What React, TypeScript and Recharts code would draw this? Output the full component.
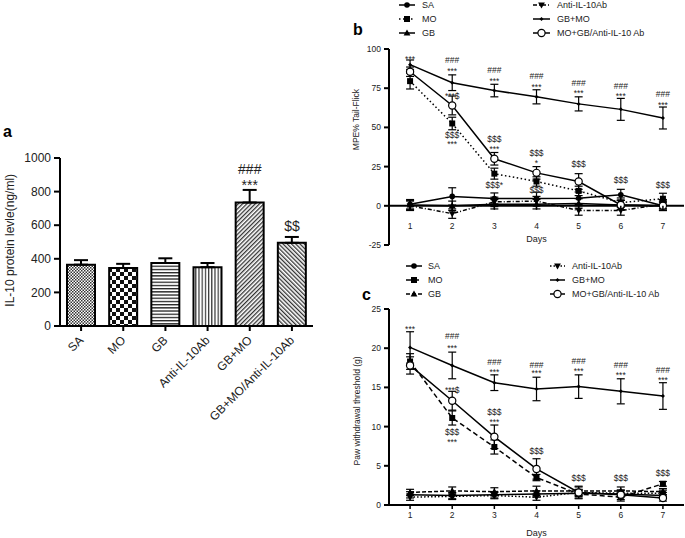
import React from "react";
import {
  BarChart,
  Bar,
  Cell,
  LineChart,
  Line,
  XAxis,
  YAxis,
  ErrorBar,
  ReferenceLine,
  ReferenceDot,
} from "recharts";

const FONT = "Arial, 'Liberation Sans', Helvetica, sans-serif";

// ---- panel a: IL-10 protein level
const groups = ["SA", "MO", "GB", "Anti-IL-10Ab", "GB+MO", "GB+MO/Anti-IL-10Ab"];
const il10 = [365, 345, 375, 350, 735, 495];
const il10Sem = [27, 25, 28, 25, 75, 35];
const il10Notes = [
  { group: "GB+MO", y: 935, text: "###" },
  { group: "GB+MO", y: 855, text: "***" },
  { group: "GB+MO/Anti-IL-10Ab", y: 595, text: "$$" },
];
const aTicks = [0, 200, 400, 600, 800, 1000];

// ---- panels b, c: days
const days = [1, 2, 3, 4, 5, 6, 7];

// b: MPE% tail-flick
const mpeSA = [1, 6, 4.7, 4.7, 4.8, 7, 0];
const mpeSAErr = [3, 5.5, 3.5, 4, 4, 3.5, 3];
const mpeMO = [79.5, 52.5, 20.5, 15.5, 9.5, 2, 4.5];
const mpeMOErr = [5, 4, 3.5, 3, 3, 3, 3.5];
const mpeGB = [0.5, 0, 1, 1, 1.5, 0.5, 0];
const mpeGBErr = [3, 3, 3, 3, 3, 3, 3];
const mpeAnti = [0, -5, 2.5, 3, -3, -3, 1];
const mpeAntiErr = [3, 3, 3, 3, 3, 3, 3];
const mpeGBMO = [90, 78.5, 73.5, 69.5, 65, 61.5, 56];
const mpeGBMOErr = [3, 5, 4, 4.5, 4.5, 7, 7];
const mpeMix = [85.5, 64, 30, 21, 15.5, 0.5, 0];
const mpeMixErr = [3, 6, 4, 4, 5, 3, 2];
const bTicks = [-25, 0, 25, 50, 75, 100];
const bNotes = [
  { day: 1, y: 95, text: "***" },
  { day: 2, y: 93, text: "###" },
  { day: 2, y: 87, text: "***" },
  { day: 2, y: 71, text: "***$" },
  { day: 2, y: 45, text: "$$$" },
  { day: 2, y: 40.5, text: "***" },
  { day: 3, y: 86.5, text: "###" },
  { day: 3, y: 80.5, text: "***" },
  { day: 3, y: 42.5, text: "$$$" },
  { day: 3, y: 37.5, text: "***" },
  { day: 3, y: 13, text: "$$$*" },
  { day: 4, y: 83, text: "###" },
  { day: 4, y: 77, text: "***" },
  { day: 4, y: 33.5, text: "$$$" },
  { day: 4, y: 28.5, text: "*" },
  { day: 4, y: 10, text: "$$$" },
  { day: 5, y: 78, text: "###" },
  { day: 5, y: 73, text: "***" },
  { day: 5, y: 26.5, text: "$$$" },
  { day: 6, y: 76.5, text: "###" },
  { day: 6, y: 71, text: "***" },
  { day: 6, y: 16.5, text: "$$$" },
  { day: 7, y: 71, text: "###" },
  { day: 7, y: 65.5, text: "***" },
  { day: 7, y: 13, text: "$$$" },
];

// c: paw withdrawal threshold
const pwtSA = [1.3, 1.2, 1.3, 1.4, 1.5, 1.4, 1.2];
const pwtSAErr = [0.4, 0.4, 0.4, 0.4, 0.4, 0.4, 0.4];
const pwtMO = [18.3, 11.1, 7.4, 3.5, 1.4, 1.0, 2.7];
const pwtMOErr = [1, 0.9, 0.9, 0.4, 0.5, 0.5, 0.3];
const pwtGB = [1.6, 1.8, 1.7, 1.8, 1.8, 1.8, 1.7];
const pwtGBErr = [0.4, 0.5, 0.5, 0.6, 0.5, 0.5, 0.4];
const pwtAnti = [1.0, 1.1, 1.2, 1.0, 1.6, 1.5, 1.5];
const pwtAntiErr = [0.4, 0.4, 0.4, 0.4, 0.4, 0.4, 0.4];
const pwtGBMO = [20.1, 17.8, 15.6, 14.8, 15.1, 14.5, 13.9];
const pwtGBMOErr = [2, 1.7, 1, 1.5, 1.5, 1.6, 1.7];
const pwtMix = [17.8, 13.3, 8.7, 4.6, 1.6, 1.3, 0.9];
const pwtMixErr = [1.1, 1.2, 1.5, 1.3, 0.8, 0.6, 0.4];
const cTicks = [0, 5, 10, 15, 20, 25];
const cNotes = [
  { day: 1, y: 22.7, text: "***" },
  { day: 2, y: 21.5, text: "###" },
  { day: 2, y: 20.3, text: "***" },
  { day: 2, y: 14.9, text: "***$" },
  { day: 2, y: 9.3, text: "$$$" },
  { day: 2, y: 8.2, text: "***" },
  { day: 3, y: 18.3, text: "###" },
  { day: 3, y: 17.2, text: "***" },
  { day: 3, y: 11.9, text: "$$$" },
  { day: 3, y: 10.8, text: "***" },
  { day: 4, y: 17.9, text: "###" },
  { day: 4, y: 17.0, text: "***" },
  { day: 4, y: 6.9, text: "$$$" },
  { day: 5, y: 18.4, text: "###" },
  { day: 5, y: 17.3, text: "***" },
  { day: 5, y: 3.5, text: "$$$" },
  { day: 6, y: 17.9, text: "###" },
  { day: 6, y: 16.8, text: "***" },
  { day: 6, y: 3.5, text: "$$$" },
  { day: 7, y: 17.2, text: "###" },
  { day: 7, y: 16.2, text: "***" },
  { day: 7, y: 4.1, text: "$$$" },
];

// bar fills (pattern ids, same order as groups)
const barPatterns = ["pSA", "pMO", "pGB", "pAnti", "pGBMO", "pMix"];

const seriesB = [
  { key: "SA", name: "SA", values: mpeSA, err: mpeSAErr, dash: undefined, marker: "circle" },
  { key: "GB", name: "GB", values: mpeGB, err: mpeGBErr, dash: undefined, marker: "tri" },
  { key: "Anti", name: "Anti-IL-10Ab", values: mpeAnti, err: mpeAntiErr, dash: "4 2 1 2", marker: "triDown" },
  { key: "MO", name: "MO", values: mpeMO, err: mpeMOErr, dash: "1.5 2.5", marker: "square" },
  { key: "Mix", name: "MO+GB/Anti-IL-10 Ab", values: mpeMix, err: mpeMixErr, dash: undefined, marker: "open" },
  { key: "GBMO", name: "GB+MO", values: mpeGBMO, err: mpeGBMOErr, dash: undefined, marker: "diamond" },
];

const seriesC = [
  { key: "SA", name: "SA", values: pwtSA, err: pwtSAErr, dash: undefined, marker: "circle" },
  { key: "GB", name: "GB", values: pwtGB, err: pwtGBErr, dash: "4 2", marker: "tri" },
  { key: "Anti", name: "Anti-IL-10Ab", values: pwtAnti, err: pwtAntiErr, dash: "1.5 2", marker: "triDown" },
  { key: "MO", name: "MO", values: pwtMO, err: pwtMOErr, dash: "5 3", marker: "square" },
  { key: "Mix", name: "MO+GB/Anti-IL-10 Ab", values: pwtMix, err: pwtMixErr, dash: undefined, marker: "open" },
  { key: "GBMO", name: "GB+MO", values: pwtGBMO, err: pwtGBMOErr, dash: undefined, marker: "diamond" },
];

const legendOrder = ["SA", "MO", "GB", "Anti", "GBMO", "Mix"];

const aData = groups.map((g, i) => ({ group: g, value: il10[i], err: [0, il10Sem[i]] }));

const toRows = (series: any[]) =>
  days.map((d, i) => {
    const row: any = { day: d };
    series.forEach((s) => {
      row[s.key] = s.values[i];
      row[s.key + "Err"] = s.err[i];
    });
    return row;
  });

const bData = toRows(seriesB);
const cData = toRows(seriesC);

function Marker({ cx, cy, kind }: any) {
  const s = 3;
  switch (kind) {
    case "circle":
      return <circle cx={cx} cy={cy} r={2.8} fill="#000" />;
    case "open":
      return <circle cx={cx} cy={cy} r={3.6} fill="#fff" stroke="#000" strokeWidth={1.2} />;
    case "square":
      return <rect x={cx - s} y={cy - s} width={2 * s} height={2 * s} fill="#000" />;
    case "tri":
      return (
        <polygon
          points={`${cx},${cy - s - 0.6} ${cx - s - 0.4},${cy + s - 0.6} ${cx + s + 0.4},${cy + s - 0.6}`}
          fill="#000"
        />
      );
    case "triDown":
      return (
        <polygon
          points={`${cx},${cy + s + 0.6} ${cx - s - 0.4},${cy - s + 0.6} ${cx + s + 0.4},${cy - s + 0.6}`}
          fill="#000"
        />
      );
    default:
      return <polygon points={`${cx},${cy - 2} ${cx + 2},${cy} ${cx},${cy + 2} ${cx - 2},${cy}`} fill="#000" />;
  }
}

const noteShape = (text: string, size: number) => (p: any) =>
  (
    <text
      x={p.cx}
      y={p.cy}
      textAnchor="middle"
      dominantBaseline="central"
      dy={text.startsWith("*") ? "0.2em" : 0}
      fontSize={size}
      fontFamily={FONT}
      fill="#222"
    >
      {text}
    </text>
  );

const SideTitle = ({ viewBox, text, dx, frac, size }: any) => {
  const cx = viewBox.x + dx;
  const cy = viewBox.y + viewBox.height * frac;
  return (
    <text
      x={cx}
      y={cy}
      transform={`rotate(-90, ${cx}, ${cy})`}
      textAnchor="middle"
      dominantBaseline="central"
      fontSize={size}
      fontFamily={FONT}
      fill="#222"
    >
      {text}
    </text>
  );
};

const SlantTick = ({ x, y, payload }: any) => {
  const ax = x + 3;
  const ay = y + 7;
  return (
    <text
      x={ax}
      y={ay}
      transform={`rotate(-45, ${ax}, ${ay})`}
      textAnchor="end"
      fontSize={12}
      fontFamily={FONT}
      fill="#222"
    >
      {payload.value}
    </text>
  );
};

// x ticks drawn on the zero line of panel b (the axis itself sits at -25)
const ZeroTick = ({ x, y, payload, shift }: any) => (
  <g>
    <line x1={x} x2={x} y1={y - shift} y2={y - shift + 4} stroke="#000" strokeWidth={1.5} />
    <text x={x} y={y - shift + 23} textAnchor="middle" fontSize={8.5} fontFamily={FONT} fill="#222">
      {payload.value}
    </text>
  </g>
);

function LegendBlock({ series, left, top, cols, rowY }: any) {
  const items = legendOrder.map((k) => series.find((s: any) => s.key === k));
  return (
    <svg style={{ position: "absolute", left, top }} width={300} height={45}>
      {items.map((s: any, i: number) => {
        const col = cols[Math.floor(i / 3)];
        const y = rowY[i % 3];
        return (
          <g key={s.key}>
            <line x1={col[0]} x2={col[1]} y1={y} y2={y} stroke="#000" strokeWidth={1.5} strokeDasharray={s.dash} />
            <Marker cx={(col[0] + col[1]) / 2} cy={y} kind={s.marker} />
            <text x={col[2]} y={y} dominantBaseline="central" fontSize={9} fontFamily={FONT} fill="#222">
              {s.name}
            </text>
          </g>
        );
      })}
    </svg>
  );
}

const axisStroke = { stroke: "#000", strokeWidth: 2 };
const smallTick = { fontSize: 8.5, fill: "#222", fontFamily: FONT };

function renderSeries(series: any[], capW: number) {
  return series.map((s) => (
    <Line
      key={s.key}
      dataKey={s.key}
      name={s.name}
      stroke="#000"
      strokeWidth={1.5}
      strokeDasharray={s.dash}
      isAnimationActive={false}
      dot={(p: any) => <Marker key={`${s.key}-${p.index}`} cx={p.cx} cy={p.cy} kind={s.marker} />}
      activeDot={false}
    >
      <ErrorBar dataKey={s.key + "Err"} width={capW} stroke="#000" strokeWidth={1.2} />
    </Line>
  ));
}

const Letter = ({ ch, left, top }: any) => (
  <div style={{ position: "absolute", left, top, fontFamily: FONT, fontWeight: 700, fontSize: 16, lineHeight: "16px" }}>
    {ch}
  </div>
);

export default function App() {
  const bPlotH = 196;
  const bShift = (bPlotH * 25) / 125;
  return (
    <div style={{ position: "absolute", left: 0, top: 0, width: 685, height: 538, background: "#fff", overflow: "hidden" }}>
      <Letter ch="a" left={3} top={124} />
      <Letter ch="b" left={353} top={22} />
      <Letter ch="c" left={362} top={287} />

      <div style={{ position: "absolute", left: 0, top: 0 }}>
        <BarChart width={330} height={470} data={aData} margin={{ top: 158, right: 17, left: 0, bottom: 0 }}>
          <defs>
            <pattern id="pSA" width="3" height="3" patternUnits="userSpaceOnUse">
              <rect width="3" height="3" fill="#fff" />
              <rect width="1.5" height="1.5" fill="#333" />
              <rect x="1.5" y="1.5" width="1.5" height="1.5" fill="#333" />
            </pattern>
            <pattern id="pMO" width="8" height="8" patternUnits="userSpaceOnUse">
              <rect width="8" height="8" fill="#fff" />
              <rect width="4" height="4" fill="#111" />
              <rect x="4" y="4" width="4" height="4" fill="#111" />
            </pattern>
            <pattern id="pGB" width="4" height="3.2" patternUnits="userSpaceOnUse">
              <rect width="4" height="3.2" fill="#fff" />
              <rect width="4" height="1.3" fill="#222" />
            </pattern>
            <pattern id="pAnti" width="3.2" height="4" patternUnits="userSpaceOnUse">
              <rect width="3.2" height="4" fill="#fff" />
              <rect width="1.2" height="4" fill="#333" />
            </pattern>
            <pattern id="pGBMO" width="3" height="4" patternUnits="userSpaceOnUse" patternTransform="rotate(45)">
              <rect width="3" height="4" fill="#fff" />
              <rect width="1.3" height="4" fill="#333" />
            </pattern>
            <pattern id="pMix" width="3" height="4" patternUnits="userSpaceOnUse" patternTransform="rotate(-45)">
              <rect width="3" height="4" fill="#fff" />
              <rect width="1.3" height="4" fill="#333" />
            </pattern>
          </defs>
          <XAxis
            dataKey="group"
            interval={0}
            height={144}
            axisLine={axisStroke}
            tickLine={axisStroke}
            tickSize={5}
            tickMargin={3}
            tick={<SlantTick />}
          />
          <YAxis
            width={60}
            domain={[0, 1000]}
            ticks={aTicks}
            axisLine={axisStroke}
            tickLine={axisStroke}
            tickSize={6}
            tickMargin={3}
            tick={{ fontSize: 12, fill: "#222", fontFamily: FONT }}
            label={{
              content: (p: any) => (
                <SideTitle viewBox={p.viewBox} text="IL-10 protein levle(ng/ml)" dx={10} frac={0.49} size={12} />
              ),
            }}
          />
          <Bar dataKey="value" barSize={28} stroke="#000" strokeWidth={2} isAnimationActive={false}>
            {aData.map((d, i) => (
              <Cell key={d.group} fill={`url(#${barPatterns[i]})`} />
            ))}
            <ErrorBar dataKey="err" width={7} stroke="#000" strokeWidth={2} />
          </Bar>
          {il10Notes.map((n, i) => (
            <ReferenceDot key={i} x={n.group} y={n.y} r={0} shape={noteShape(n.text, 14)} />
          ))}
        </BarChart>
      </div>

      <LegendBlock
        series={seriesB}
        left={390}
        top={0}
        cols={[
          [9, 25, 32],
          [143, 160, 167],
        ]}
        rowY={[5, 19, 33]}
      />
      <div style={{ position: "absolute", left: 330, top: 0 }}>
        <LineChart width={355} height={261} data={bData} margin={{ top: 49, right: 1, left: 0, bottom: 0 }}>
          <XAxis
            dataKey="day"
            type="number"
            domain={[0.5, 7.5]}
            ticks={days}
            interval={0}
            height={16}
            axisLine={false}
            tickLine={false}
            tickSize={0}
            tickMargin={0}
            tick={<ZeroTick shift={bShift} />}
            label={{ value: "Days", position: "insideTop", offset: -9, fontSize: 9, fill: "#222", fontFamily: FONT }}
          />
          <YAxis
            width={59}
            domain={[-25, 100]}
            ticks={bTicks}
            axisLine={axisStroke}
            tickLine={axisStroke}
            tickSize={5}
            tickMargin={3}
            tick={smallTick}
            label={{
              content: (p: any) => (
                <SideTitle viewBox={p.viewBox} text="MPE% Tail-Flick" dx={26} frac={0.36} size={8.5} />
              ),
            }}
          />
          <ReferenceLine y={0} stroke="#000" strokeWidth={2} />
          {renderSeries(seriesB, 4)}
          {bNotes.map((n, i) => (
            <ReferenceDot key={i} x={n.day} y={n.y} r={0} shape={noteShape(n.text, 8.5)} />
          ))}
        </LineChart>
      </div>

      <LegendBlock
        series={seriesC}
        left={390}
        top={255}
        cols={[
          [16, 32, 38],
          [160, 175, 182],
        ]}
        rowY={[11, 25, 39]}
      />
      <div style={{ position: "absolute", left: 330, top: 255 }}>
        <LineChart width={355} height={283} data={cData} margin={{ top: 54, right: 1, left: 0, bottom: 0 }}>
          <XAxis
            dataKey="day"
            type="number"
            domain={[0.5, 7.5]}
            ticks={days}
            interval={0}
            height={33}
            axisLine={axisStroke}
            tickLine={{ stroke: "#000", strokeWidth: 1.5 }}
            tickSize={4}
            tickMargin={3}
            tick={smallTick}
            label={{ value: "Days", position: "insideBottom", offset: 2, fontSize: 9, fill: "#222", fontFamily: FONT }}
          />
          <YAxis
            width={59}
            domain={[0, 25]}
            ticks={cTicks}
            axisLine={axisStroke}
            tickLine={axisStroke}
            tickSize={5}
            tickMargin={3}
            tick={smallTick}
            label={{
              content: (p: any) => (
                <SideTitle viewBox={p.viewBox} text="Paw withdrawal threshold (g)" dx={27} frac={0.52} size={8.5} />
              ),
            }}
          />
          {renderSeries(seriesC, 4)}
          {cNotes.map((n, i) => (
            <ReferenceDot key={i} x={n.day} y={n.y} r={0} shape={noteShape(n.text, 8.5)} />
          ))}
        </LineChart>
      </div>
    </div>
  );
}
